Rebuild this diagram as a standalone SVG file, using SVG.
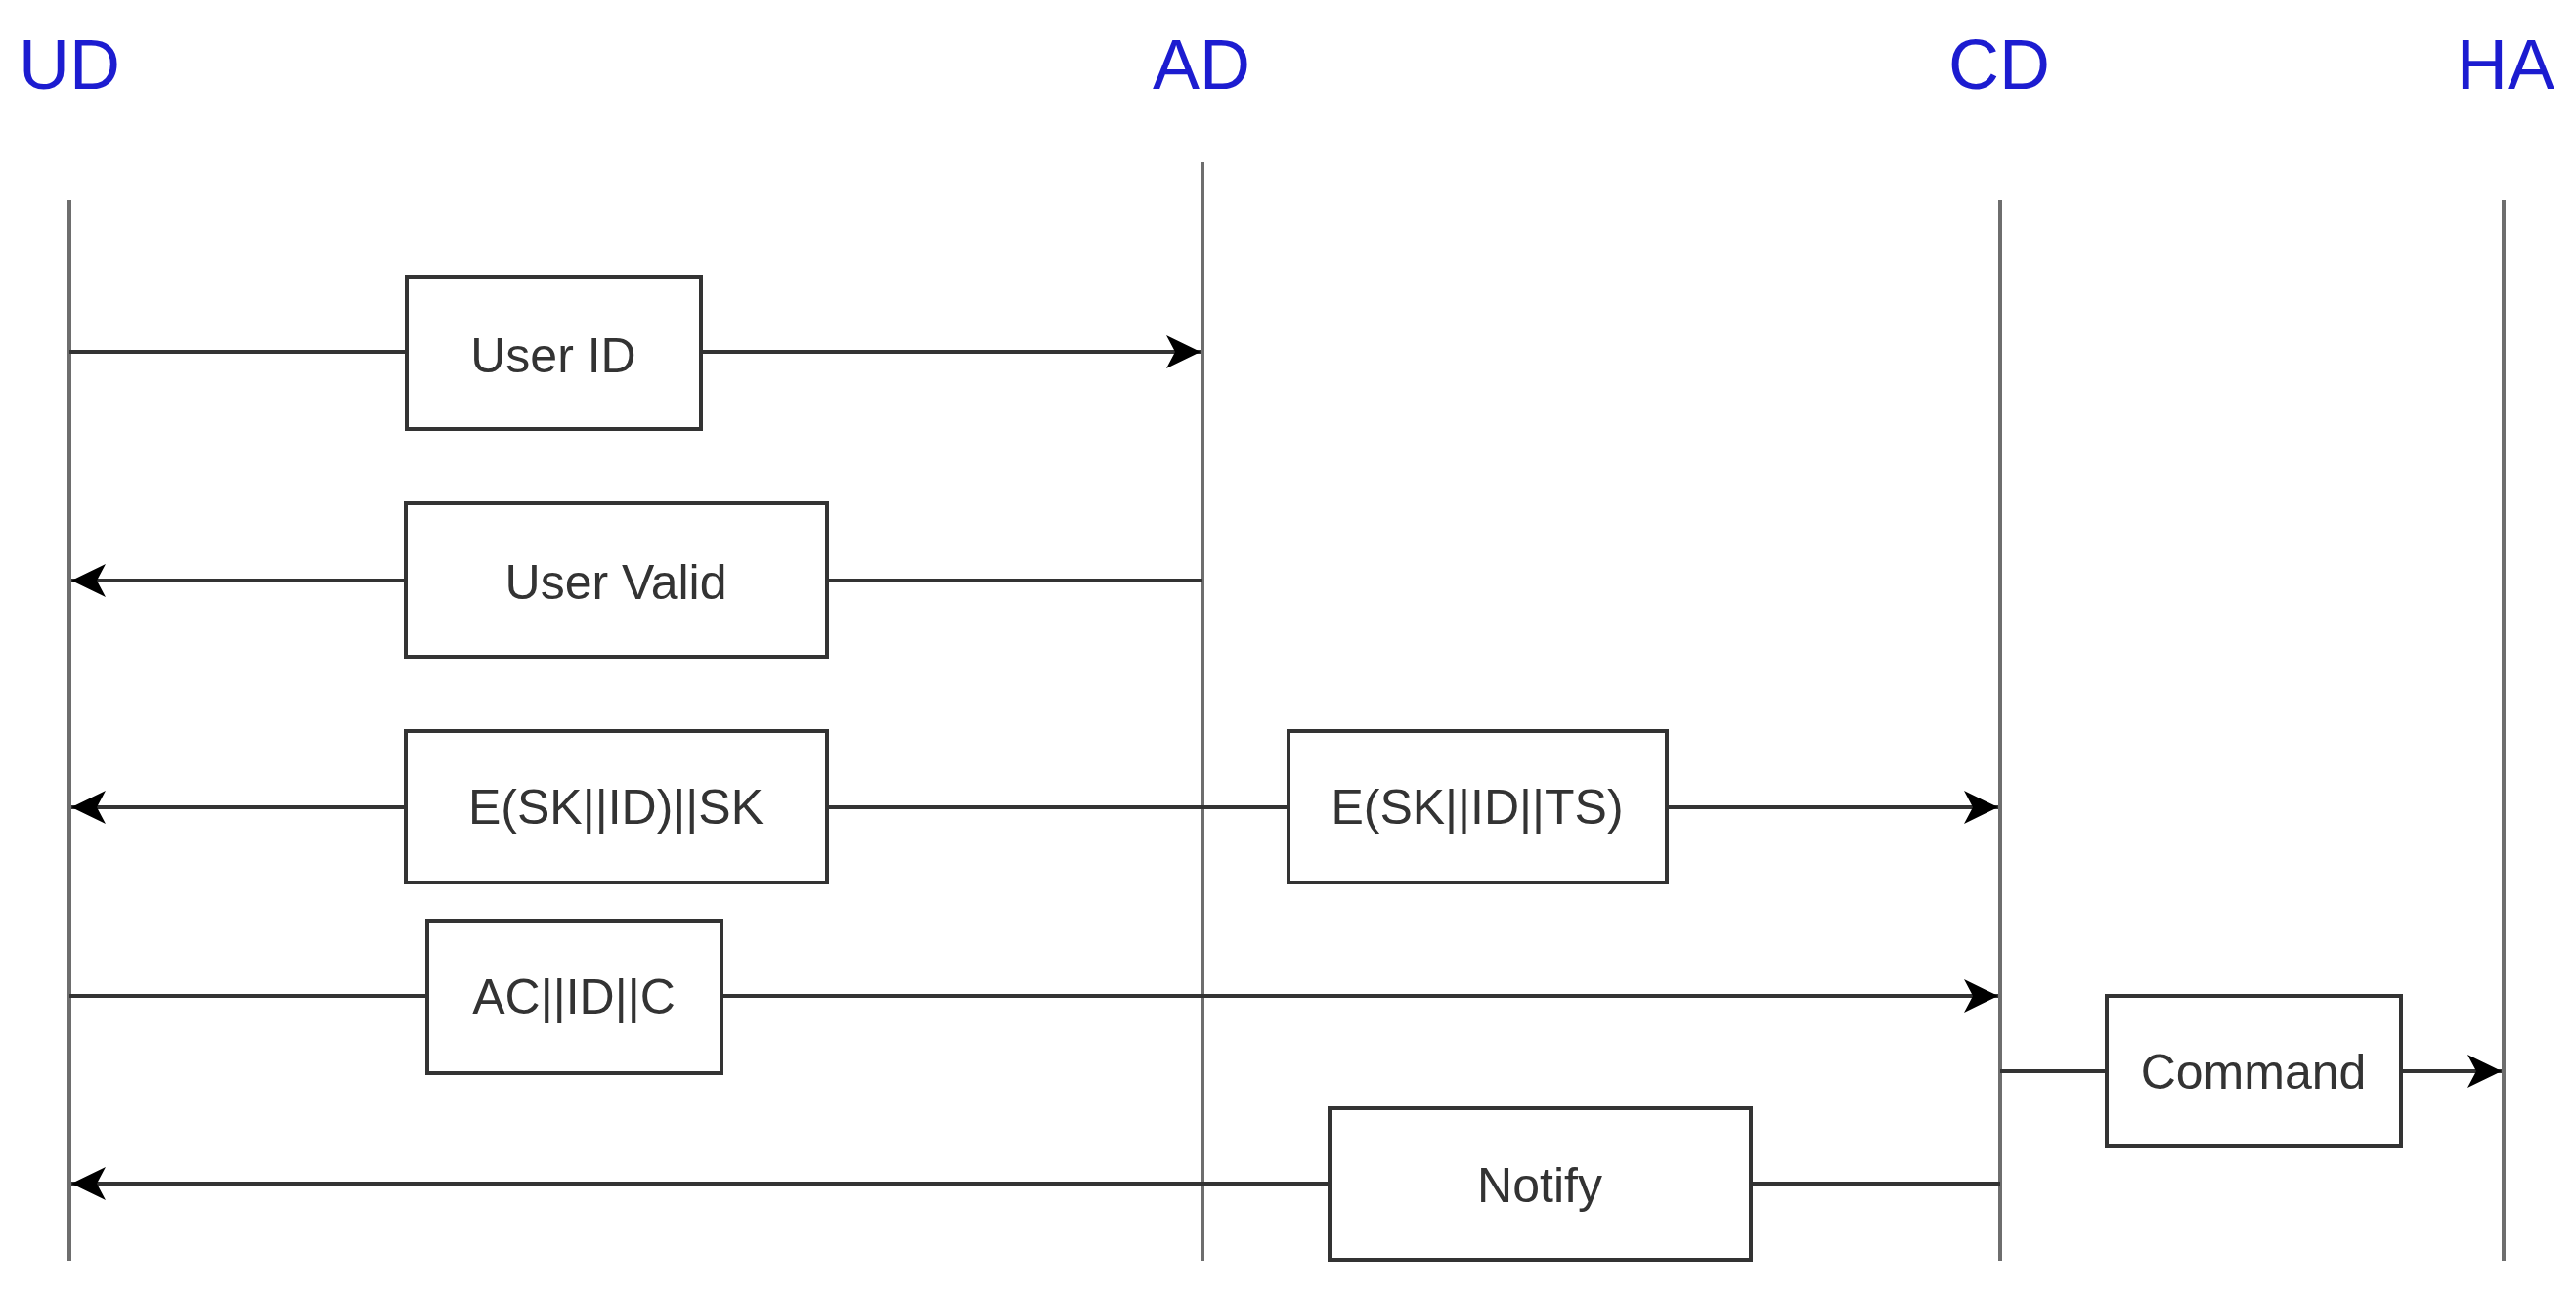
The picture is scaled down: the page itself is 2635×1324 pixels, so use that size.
<svg xmlns="http://www.w3.org/2000/svg" width="2635" height="1324" viewBox="0 0 2635 1324">
<style>
.hdr{font-family:"Liberation Sans",Arial,sans-serif;font-size:72px;fill:#1c1cd0;text-anchor:middle}
.life{stroke:#6e6e6e;stroke-width:4;fill:none}
.msg{stroke:#333;stroke-width:4;fill:none}
.box rect{fill:#fff;stroke:#333;stroke-width:4}
.box text{font-family:"Liberation Sans",Arial,sans-serif;font-size:50px;fill:#333;text-anchor:middle}
</style>
<defs>
<marker id="arr" markerUnits="userSpaceOnUse" markerWidth="36" markerHeight="36" viewBox="0 0 36 36" refX="35" refY="18" orient="auto">
<path d="M0,1 L35,18 L0,35 L9,18 Z" fill="#000"/>
</marker>
</defs>
<rect width="2635" height="1324" fill="#fff"/>
<g id="lifelines">
<g id="UD"><text class="hdr" x="71" y="91">UD</text><line class="life" x1="71" y1="205" x2="71" y2="1290"/></g>
<g id="AD"><text class="hdr" x="1229" y="91">AD</text><line class="life" x1="1230" y1="166" x2="1230" y2="1290"/></g>
<g id="CD"><text class="hdr" x="2045" y="91">CD</text><line class="life" x1="2046" y1="205" x2="2046" y2="1290"/></g>
<g id="HA"><text class="hdr" x="2563" y="91">HA</text><line class="life" x1="2561" y1="205" x2="2561" y2="1290"/></g>
</g>
<g id="connectors">
<line class="msg" x1="71" y1="360" x2="1228" y2="360" marker-end="url(#arr)"/>
<line class="msg" x1="1230" y1="594" x2="73" y2="594" marker-end="url(#arr)"/>
<line class="msg" x1="1317" y1="826" x2="73" y2="826" marker-end="url(#arr)"/>
<line class="msg" x1="1705" y1="826" x2="2044" y2="826" marker-end="url(#arr)"/>
<line class="msg" x1="71" y1="1019" x2="2044" y2="1019" marker-end="url(#arr)"/>
<line class="msg" x1="2046" y1="1096" x2="2559" y2="1096" marker-end="url(#arr)"/>
<line class="msg" x1="2046" y1="1211" x2="73" y2="1211" marker-end="url(#arr)"/>
</g>
<g id="userid" class="box"><rect x="416" y="283" width="301" height="156"/><text x="566" y="381">User ID</text></g>
<g id="uservalid" class="box"><rect x="415" y="515" width="431" height="157"/><text x="630" y="613">User Valid</text></g>
<g id="esk1" class="box"><rect x="415" y="748" width="431" height="155"/><text x="630" y="843">E(SK||ID)||SK</text></g>
<g id="esk2" class="box"><rect x="1318" y="748" width="387" height="155"/><text x="1511" y="843">E(SK||ID||TS)</text></g>
<g id="acidc" class="box"><rect x="437" y="942" width="301" height="156"/><text x="587" y="1037">AC||ID||C</text></g>
<g id="command" class="box"><rect x="2155" y="1019" width="301" height="154"/><text x="2305" y="1114">Command</text></g>
<g id="notify" class="box"><rect x="1360" y="1134" width="431" height="155"/><text x="1575" y="1230">Notify</text></g>
</svg>
